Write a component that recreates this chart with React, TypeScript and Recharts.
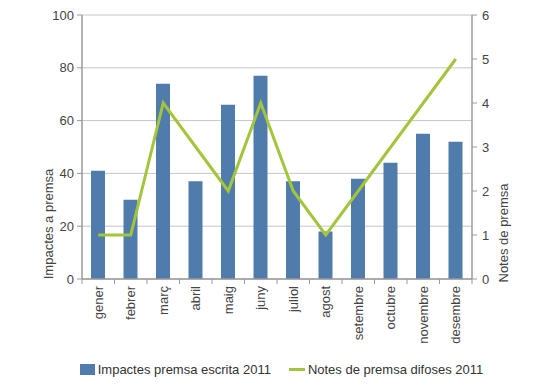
import React from 'react';
import { ComposedChart, Bar, Line, XAxis, YAxis, CartesianGrid, Legend } from 'recharts';

const months = ['gener', 'febrer', 'març', 'abril', 'maig', 'juny', 'juliol', 'agost', 'setembre', 'octubre', 'novembre', 'desembre'];
const impactes = [41, 30, 74, 37, 66, 77, 37, 18, 38, 44, 55, 52];
const notes = [1, 1, 4, 3, 2, 4, 2, 1, 2, 3, 4, 5];
const leftTicks = [0, 20, 40, 60, 80, 100];
const rightTicks = [0, 1, 2, 3, 4, 5, 6];

const barName = 'Impactes premsa escrita 2011';
const lineName = 'Notes de premsa difoses 2011';

const data = months.map((m, i) => ({ month: m, impactes: impactes[i], notes: notes[i] }));

const FONT = '"Liberation Sans", Arial, Helvetica, sans-serif';
const BAR = '#4f7cab';
const LINE = '#a4c53b';
const AXIS = '#9a9a9a';
const TEXT = '#444444';

const MonthTick = (props: any) => {
  const { x, y, payload, width, visibleTicksCount, index } = props;
  const n = visibleTicksCount || months.length;
  const half = (width || 390) / n / 2;
  const yy = y + 7;
  return (
    <g>
      <line x1={x - half} x2={x - half} y1={y} y2={y + 5} stroke={AXIS} />
      {index === n - 1 ? <line x1={x + half} x2={x + half} y1={y} y2={y + 5} stroke={AXIS} /> : null}
      <text x={x} y={yy} transform={`rotate(-90 ${x} ${yy})`} textAnchor="end" dy="0.35em" fontSize={13} fill={TEXT} fontFamily={FONT}>
        {payload.value}
      </text>
    </g>
  );
};

const LeftLabel = (props: any) => {
  const vb = props.viewBox || {};
  const cx = 48;
  const cy = vb.y + vb.height - 55;
  return (
    <text x={cx} y={cy} transform={`rotate(-90 ${cx} ${cy})`} textAnchor="middle" dy="0.35em" fontSize={13} fill={TEXT} fontFamily={FONT}>
      Impactes a premsa
    </text>
  );
};

const RightLabel = (props: any) => {
  const vb = props.viewBox || {};
  const cx = 503;
  const cy = vb.y + vb.height - 46;
  return (
    <text x={cx} y={cy} transform={`rotate(-90 ${cx} ${cy})`} textAnchor="middle" dy="0.35em" fontSize={13} fill={TEXT} fontFamily={FONT}>
      Notes de premsa
    </text>
  );
};

const LegendContent = () => (
  <div style={{ height: 37, boxSizing: 'border-box', display: 'flex', justifyContent: 'center', alignItems: 'center', paddingTop: 6, paddingLeft: 20, fontFamily: FONT, fontSize: 13, color: '#333' }}>
    <div style={{ display: 'flex', alignItems: 'center', marginRight: 18 }}>
      <span style={{ display: 'inline-block', width: 15, height: 11, background: BAR, marginRight: 3 }} />
      <span>{barName}</span>
    </div>
    <div style={{ display: 'flex', alignItems: 'center' }}>
      <span style={{ display: 'inline-block', width: 16, height: 3, background: LINE, marginRight: 3 }} />
      <span>{lineName}</span>
    </div>
  </div>
);

export default function App() {
  return (
    <div style={{ position: 'absolute', left: 0, top: 0, width: 543, height: 385, background: '#fff' }}>
      <ComposedChart width={543} height={385} data={data} margin={{ top: 15, right: 0, left: 0, bottom: 0 }}>
        <CartesianGrid vertical={false} stroke="#c6c6c6" yAxisId="left" />
        <XAxis dataKey="month" interval={0} tick={<MonthTick />} tickLine={false} tickSize={0} tickMargin={0} axisLine={{ stroke: AXIS, strokeWidth: 1.5 }} height={69} />
        <YAxis yAxisId="left" domain={[0, 100]} ticks={leftTicks} width={82} axisLine={{ stroke: AXIS, strokeWidth: 1.5 }} tickLine={{ stroke: AXIS }} tickSize={5} tickMargin={3} tick={{ fill: TEXT, fontSize: 13, fontFamily: FONT }} label={<LeftLabel />} />
        <YAxis yAxisId="right" orientation="right" domain={[0, 6]} ticks={rightTicks} width={71} axisLine={{ stroke: AXIS, strokeWidth: 1.5 }} tickLine={{ stroke: AXIS }} tickSize={5} tickMargin={5} tick={{ fill: TEXT, fontSize: 13, fontFamily: FONT }} label={<RightLabel />} />
        <Bar yAxisId="left" dataKey="impactes" name={barName} fill={BAR} barSize={14} isAnimationActive={false} />
        <Line yAxisId="right" dataKey="notes" name={lineName} type="linear" stroke={LINE} strokeWidth={3} dot={false} activeDot={false} isAnimationActive={false} />
        <Legend verticalAlign="bottom" content={<LegendContent />} />
      </ComposedChart>
    </div>
  );
}
